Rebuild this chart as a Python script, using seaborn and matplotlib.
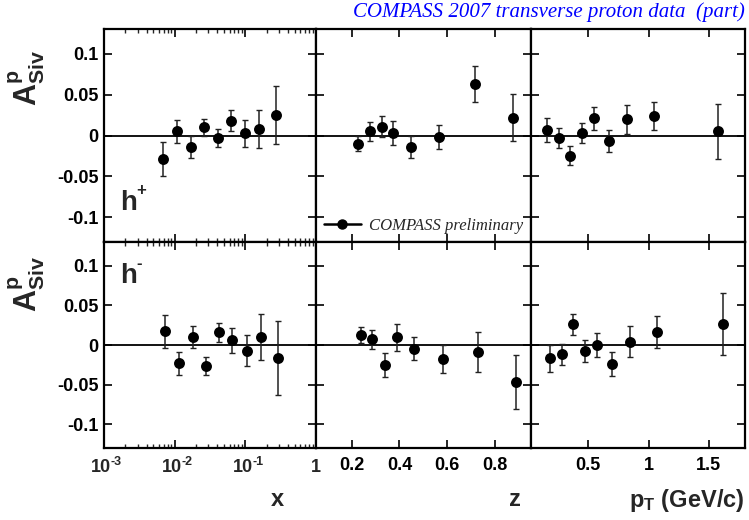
import numpy as np
import pandas as pd
import matplotlib
matplotlib.use("Agg")
import matplotlib.pyplot as plt
import seaborn as sns
from matplotlib.ticker import FixedLocator, LogLocator, NullFormatter
from matplotlib.lines import Line2D

# ---------------- data ----------------
# x bins
x_hp = [0.0068, 0.0109, 0.0169, 0.0263, 0.0407, 0.0634, 0.100, 0.158, 0.272]
a_x_hp = [-0.029, 0.005, -0.014, 0.010, -0.003, 0.018, 0.003, 0.008, 0.025]
e_x_hp = [0.021, 0.014, 0.013, 0.0105, 0.011, 0.013, 0.0165, 0.023, 0.036]
x_hm = [0.0072, 0.0116, 0.0180, 0.0281, 0.0429, 0.0655, 0.1045, 0.165, 0.287]
a_x_hm = [0.017, -0.023, 0.010, -0.026, 0.016, 0.006, -0.007, 0.010, -0.016]
e_x_hm = [0.021, 0.0146, 0.0136, 0.0115, 0.0123, 0.0155, 0.020, 0.0286, 0.0468]

# z bins
z_hp = [0.225, 0.2745, 0.325, 0.375, 0.447, 0.567, 0.719, 0.878]
a_z_hp = [-0.010, 0.005, 0.011, 0.003, -0.014, -0.002, 0.063, 0.022]
e_z_hp = [0.0095, 0.0115, 0.0133, 0.015, 0.013, 0.015, 0.022, 0.029]
z_hm = [0.237, 0.287, 0.338, 0.388, 0.460, 0.581, 0.731, 0.891]
a_z_hm = [0.0125, 0.007, -0.025, 0.0095, -0.0045, -0.018, -0.009, -0.046]
e_z_hm = [0.0105, 0.0123, 0.015, 0.0174, 0.015, 0.0174, 0.0255, 0.034]

# pT bins
pt_hp = [0.157, 0.253, 0.348, 0.451, 0.548, 0.670, 0.818, 1.045, 1.573]
a_pt_hp = [0.007, -0.003, -0.025, 0.003, 0.021, -0.0065, 0.020, 0.024, 0.005]
e_pt_hp = [0.015, 0.0127, 0.0117, 0.0125, 0.0137, 0.0135, 0.0176, 0.0174, 0.034]
pt_hm = [0.178, 0.278, 0.376, 0.473, 0.570, 0.695, 0.843, 1.068, 1.620]
a_pt_hm = [-0.0165, -0.0117, 0.026, -0.0075, 0.000, -0.0243, 0.004, 0.0167, 0.026]
e_pt_hm = [0.017, 0.0134, 0.013, 0.0138, 0.0155, 0.015, 0.0196, 0.020, 0.039]

ytick_vals = [-0.1, -0.05, 0, 0.05, 0.1]
ytick_labels = ["-0.1", "-0.05", "0", "0.05", "0.1"]
x_log_ticks = [1e-3, 1e-2, 1e-1, 1.0]
x_log_exps = ["-3", "-2", "-1", None]
z_ticks = [0.2, 0.4, 0.6, 0.8]
z_tick_labels = ["0.2", "0.4", "0.6", "0.8"]
pt_ticks = [0.5, 1.0, 1.5]
pt_tick_labels = ["0.5", "1", "1.5"]

title_text = "COMPASS 2007 transverse proton data  (part)"
legend_text = "COMPASS preliminary"

# ---------------- style ----------------
sns.set_theme(style="ticks")
plt.rcParams["font.family"] = ["Liberation Sans", "DejaVu Sans"]
plt.rcParams["mathtext.fontset"] = "custom"
plt.rcParams["mathtext.rm"] = "Liberation Sans"
plt.rcParams["mathtext.bf"] = "Liberation Sans:bold"
plt.rcParams["mathtext.it"] = "Liberation Sans:italic"
plt.rcParams["xtick.direction"] = "in"
plt.rcParams["ytick.direction"] = "in"
plt.rcParams["axes.unicode_minus"] = False

W, H = 749, 520
fig = plt.figure(figsize=(W / 100, H / 100), dpi=100)

xe = [104, 316, 530.5, 745]
rows = [(29.3, 241.7), (241.7, 448.3)]

def mk_ax(c, r):
    x0, x1 = xe[c], xe[c + 1]
    y0, y1 = rows[r]
    return fig.add_axes([x0 / W, 1 - y1 / H, (x1 - x0) / W, (y1 - y0) / H])

axes = [[mk_ax(c, r) for c in range(3)] for r in range(2)]

datasets = [
    [(x_hp, a_x_hp, e_x_hp), (z_hp, a_z_hp, e_z_hp), (pt_hp, a_pt_hp, e_pt_hp)],
    [(x_hm, a_x_hm, e_x_hm), (z_hm, a_z_hm, e_z_hm), (pt_hm, a_pt_hm, e_pt_hm)],
]

TICK_FS = 13

for r in range(2):
    for c in range(3):
        ax = axes[r][c]
        xv, yv, ev = datasets[r][c]
        df = pd.DataFrame({"v": xv, "a": yv, "e": ev})
        ax.axhline(0, color="black", lw=1.3, zorder=1)
        ax.errorbar(df["v"], df["a"], yerr=df["e"], fmt="none", ecolor="#222222",
                    elinewidth=1.1, capsize=2.0, capthick=1.0, zorder=2)
        sns.scatterplot(data=df, x="v", y="a", ax=ax, color="black", s=62,
                        edgecolor="black", linewidth=0, zorder=3, legend=False)
        ax.set_xlabel("")
        ax.set_ylabel("")
        ax.set_ylim(-0.13, 0.13)
        ax.yaxis.set_major_locator(FixedLocator(ytick_vals))
        if c == 0:
            ax.set_yticklabels(ytick_labels, fontsize=TICK_FS, fontweight="bold")
        else:
            ax.set_yticklabels([])
        if c == 0:
            ax.set_xscale("log")
            ax.set_xlim(1e-3, 1)
            ax.xaxis.set_major_locator(FixedLocator(x_log_ticks))
            ax.xaxis.set_minor_locator(LogLocator(base=10, subs=np.arange(2, 10), numticks=10))
            ax.xaxis.set_minor_formatter(NullFormatter())
            ax.set_xticklabels([])
        elif c == 1:
            ax.set_xlim(0.05, 0.95)
            ax.xaxis.set_major_locator(FixedLocator(z_ticks))
        else:
            ax.set_xlim(0.02, 1.8)
            ax.xaxis.set_major_locator(FixedLocator(pt_ticks))
        ax.tick_params(axis="both", which="major", direction="in", length=6, width=1.2,
                       top=True, right=True, colors="black", labelsize=TICK_FS, pad=4)
        ax.tick_params(axis="x", which="major", pad=6)
        ax.tick_params(axis="both", which="minor", direction="in", length=3, width=1.0,
                       top=True, right=True)
        if r == 0:
            ax.tick_params(axis="x", which="both", labelbottom=False)
        else:
            if c == 1:
                ax.set_xticklabels(z_tick_labels)
            elif c == 2:
                ax.set_xticklabels(pt_tick_labels)
            for lab in ax.get_xticklabels():
                lab.set_fontweight("bold")
                lab.set_fontsize(TICK_FS)
        for sp in ax.spines.values():
            sp.set_linewidth(1.6)
            sp.set_color("black")
            sp.set_visible(True)

# log-axis tick labels (10 with hyphen exponent, ROOT style)
axl = axes[1][0]
for v, ex in zip(x_log_ticks, x_log_exps):
    if ex is None:
        axl.annotate("1", xy=(v, 0), xycoords=("data", "axes fraction"),
                     xytext=(0, -8), textcoords="offset points", ha="center", va="top",
                     fontsize=TICK_FS, fontweight="bold")
    else:
        axl.annotate("10", xy=(v, 0), xycoords=("data", "axes fraction"),
                     xytext=(-2, -8), textcoords="offset points", ha="center", va="top",
                     fontsize=TICK_FS, fontweight="bold")
        axl.annotate(ex, xy=(v, 0), xycoords=("data", "axes fraction"),
                     xytext=(5.0, -5.5), textcoords="offset points", ha="left", va="top",
                     fontsize=9, fontweight="bold")

# legend in the middle top panel
handle = Line2D([0], [0], color="black", lw=1.8, marker="o", markersize=6.5)
leg = axes[0][1].legend([handle], [legend_text], loc="lower left",
                        bbox_to_anchor=(-0.01, -0.01), frameon=False, handlelength=2.2,
                        handletextpad=0.5, borderaxespad=0.2,
                        prop={"family": "Liberation Serif", "style": "italic", "size": 12})

# hadron labels
for ax, yy, sign in ((axes[0][0], 0.12, "+"), (axes[1][0], 0.77, "-")):
    ax.text(0.075, yy, "h", transform=ax.transAxes, fontsize=20, fontweight="bold",
            ha="left", va="bottom")
    ax.annotate(sign, xy=(0.075, yy), xycoords="axes fraction", xytext=(12, 13),
                textcoords="offset points", fontsize=12, fontweight="bold",
                ha="left", va="bottom")

# y axis titles
for yc in (78, 284):
    fig.text(27 / W, 1 - yc / H, r"$\mathbf{A^{p}_{Siv}}$", rotation=90,
             fontsize=22, ha="center", va="center")

# x axis titles
fig.text(277 / W, 1 - 500 / H, "x", fontsize=17, fontweight="bold", ha="center", va="center")
fig.text(515 / W, 1 - 500 / H, "z", fontsize=17, fontweight="bold", ha="center", va="center")
fig.text(745 / W, 1 - 500 / H, r"$\mathbf{p_{T}}$ (GeV/c)", fontsize=17, fontweight="bold",
         ha="right", va="center")

# title
fig.text(745 / W, 1 - 12 / H, title_text, color="#0000ff", fontsize=15,
         family="Liberation Serif", style="italic", ha="right", va="center")

fig.savefig("out.png", dpi=100)
